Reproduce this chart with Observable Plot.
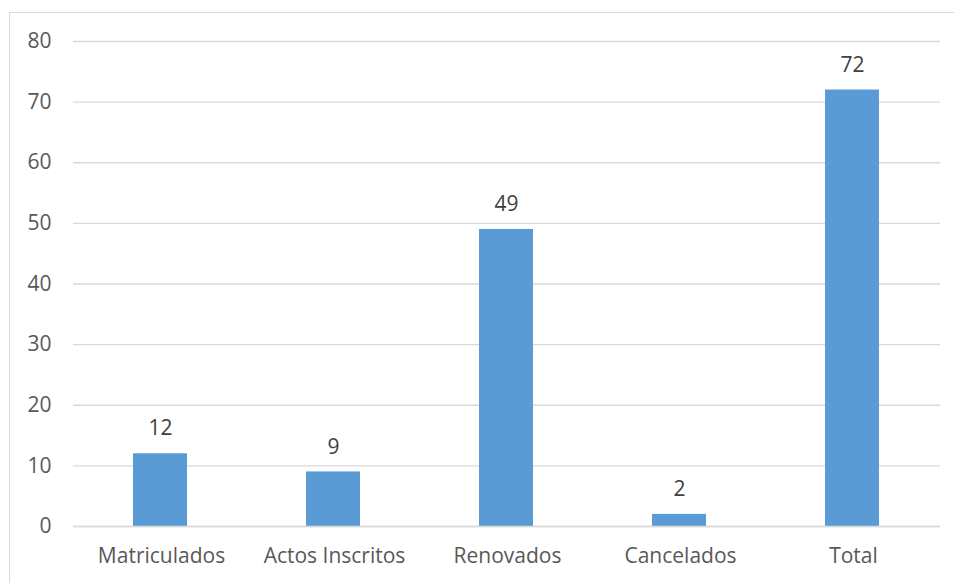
<!DOCTYPE html>
<html>
<head>
<meta charset="utf-8">
<script src="https://cdn.jsdelivr.net/npm/d3@7"></script>
<script src="https://cdn.jsdelivr.net/npm/@observablehq/plot@0.6"></script>
<style>
  html, body { margin: 0; padding: 0; background: #fff; }
  #wrap { position: relative; width: 954px; height: 583px; overflow: hidden; }
  #frame { position: absolute; left: 9px; top: 12px; width: 960px; height: 600px; border: 1px solid #d9d9d9; box-sizing: border-box; }
  #chart { position: absolute; left: 0; top: 0; }
</style>
</head>
<body>
<div id="wrap"><div id="frame"></div><div id="chart"></div></div>
<script>
const categories = ["Matriculados", "Actos Inscritos", "Renovados", "Cancelados", "Total"];
const values = [12, 9, 49, 2, 72];
const yTicks = [0, 10, 20, 30, 40, 50, 60, 70, 80];

const data = categories.map((c, i) => ({category: c, value: values[i]}));

const chart = Plot.plot({
  width: 954,
  height: 583,
  marginLeft: 73,
  marginRight: 14,
  marginTop: 41,
  marginBottom: 57,
  style: {fontFamily: "'Open Sans', sans-serif", fontSize: "21px", color: "#595959", background: "transparent"},
  x: {domain: categories, paddingInner: 0.69, paddingOuter: 0.345, label: null},
  y: {domain: [0, 80], label: null},
  marks: [
    Plot.gridY(yTicks, {stroke: "#d9d9d9", strokeOpacity: 1, strokeWidth: 1.3}),
    Plot.barY(data, {x: "category", y: "value", fill: "#5b9bd5", insetLeft: -1, insetRight: 1}),
    Plot.ruleY([0], {stroke: "#d9d9d9", strokeWidth: 1.5}),
    Plot.text(data, {x: "category", y: "value", text: d => String(d.value), dy: -25, dx: -1, fill: "#404040", fontSize: 21}),
    Plot.axisY(yTicks, {tickSize: 0, tickPadding: 22, label: null, fill: "#595959", fontSize: 21}),
    Plot.axisX({tickSize: 0, tickPadding: 22, label: null, fill: "#595959", fontSize: 21})
  ]
});
document.getElementById("chart").appendChild(chart);
</script>
</body>
</html>
